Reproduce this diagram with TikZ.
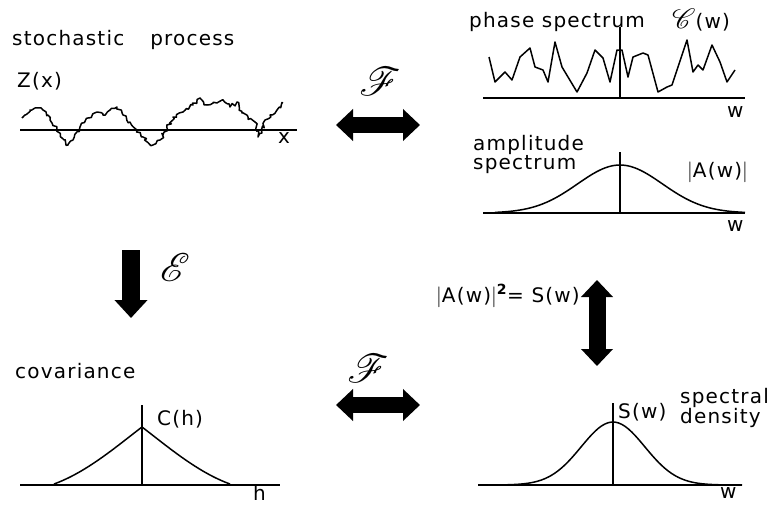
\documentclass[tikz,border=0pt]{standalone}
\usepackage{fontspec}
\setmainfont{DejaVu Sans}[LetterSpace=6]
\usepackage{mathrsfs}
\usepackage{graphicx}
\usetikzlibrary{arrows.meta,decorations.pathmorphing}

\tikzset{
  beschriftung/.style={font=\fontsize{20}{17}\selectfont, inner sep=0pt, anchor=base west},
  operator/.style={inner sep=0pt},
  achse/.style={line width=2pt},
  kurve/.style={line width=1.5pt, line join=round},
  blockpfeil/.style={line width=16pt, arrows={Triangle[length=17pt,width=31pt]-Triangle[length=17pt,width=31pt]}},
  einzelpfeil/.style={line width=18pt, arrows={-Triangle[length=18pt,width=32pt]}}
}

\begin{document}
\begin{tikzpicture}[x=1pt,y=-1pt]
  \useasboundingbox (0,0) rectangle (776,515);
  % Stochastischer Prozess
  \node[beschriftung] (stoch) at (12,45) {stochastic\hspace{26pt}process};
  \node[beschriftung] (zx) at (17,87) {Z(x)};
  \draw[achse] (20,130) -- (297,130);
  \pgfmathsetseed{11}
  \draw[kurve, decorate, decoration={random steps, segment length=2.5pt, amplitude=2pt}]
    (22,118) -- (30,110) -- (35,108) -- (43,110) -- (50,120) -- (57,128) -- (62,138)
    -- (68,145) -- (73,140) -- (80,127) -- (88,118) -- (97,112) -- (103,115) -- (110,110)
    -- (117,107) -- (123,115) -- (130,122) -- (137,130) -- (143,137) -- (153,145) -- (160,140)
    -- (167,128) -- (173,117) -- (183,112) -- (193,105) -- (200,98) -- (207,105) -- (217,103)
    -- (223,100) -- (230,107) -- (237,102) -- (242,113) -- (248,117) -- (255,122) -- (258,137)
    -- (262,133) -- (265,120) -- (270,115) -- (277,110) -- (283,103);
  \node[beschriftung] (xlab) at (278,143) {x};

  % Phasenspektrum
  \node[beschriftung] (phase) at (469,27) {phase spectrum};
  \node[beschriftung] (phi) at (672,28) {\scalebox{1.35}{$\mathscr{C}$}(w)};
  \draw[achse] (483,98) -- (745,98);
  \draw[kurve] (620,27) -- (620,98);
  \draw[kurve] (489,57) -- (495,82) -- (505,72) -- (512,80) -- (520,57) -- (530,48) -- (535,67)
    -- (543,70) -- (548,82) -- (555,42) -- (562,67) -- (577,92) -- (587,73) -- (595,50)
    -- (603,58) -- (610,82) -- (617,50) -- (622,50) -- (628,77) -- (633,57) -- (643,53)
    -- (648,55) -- (658,92) -- (667,87) -- (672,85) -- (687,40) -- (693,72) -- (698,65)
    -- (703,70) -- (712,45) -- (720,62) -- (727,82) -- (735,70);
  \node[beschriftung] (wphase) at (727,117) {w};

  % Amplitudenspektrum
  \node[beschriftung, align=left, anchor=north west] (ampl) at (473,135) {amplitude\\spectrum};
  \node[beschriftung] (aw) at (687,177) {$\big|$A(w)$\big|$};
  \draw[achse] (483,213) -- (745,213);
  \draw[kurve] (620,152) -- (620,213);
  \draw[kurve] plot[domain=495:745, samples=80] (\x, {213-48*exp(-((\x-620)/60)^2)});
  \node[beschriftung] (wampl) at (727,231) {w};

  % Kovarianz
  \node[beschriftung] (kov) at (15,378) {covariance};
  \node[beschriftung] (ch) at (157,425) {C(h)};
  \draw[achse] (20,485) -- (280,485);
  \draw[kurve] (142,405) -- (142,485);
  \draw[kurve] (54,484) .. controls (87,472) and (117,446) .. (142,427)
    .. controls (167,446) and (197,472) .. (230,484);
  \node[beschriftung] (hlab) at (253,500) {h};

  % Spektrale Dichte
  \node[beschriftung, align=left, anchor=north west] (spec) at (680,388) {spectral\\density};
  \node[beschriftung] (sw) at (618,418) {S(w)};
  \draw[achse] (478,485) -- (742,485);
  \draw[kurve] (613,403) -- (613,485);
  \draw[kurve] plot[domain=478:742, samples=80] (\x, {485-63*exp(-((\x-613)/45)^2)});
  \node[beschriftung] (wdens) at (720,498) {w};
  \node[beschriftung] (gleich) at (436,302) {$\big|$A(w)$\big|$\textsuperscript{\bfseries 2}= S(w)};

  % Pfeile
  \coordinate (fol) at (336,125);
  \coordinate (for) at (420,125);
  \coordinate (ful) at (336,405);
  \coordinate (fur) at (420,405);
  \coordinate (eo) at (131,250);
  \coordinate (eu) at (131,318);
  \coordinate (so) at (597,280);
  \coordinate (su) at (597,366);
  \draw[blockpfeil] (fol) -- (for);
  \draw[blockpfeil] (ful) -- (fur);
  \draw[einzelpfeil] (eo) -- (eu);
  \draw[blockpfeil, line width=17pt] (so) -- (su);
  \node[operator] (fo) at (380,81) {\scalebox{4}{$\mathscr{F}$}};
  \node[operator] (fu) at (368,368) {\scalebox{4}{$\mathscr{F}$}};
  \node[operator] (erw) at (175,267) {\scalebox{4}{$\mathscr{E}$}};
\end{tikzpicture}
\end{document}
